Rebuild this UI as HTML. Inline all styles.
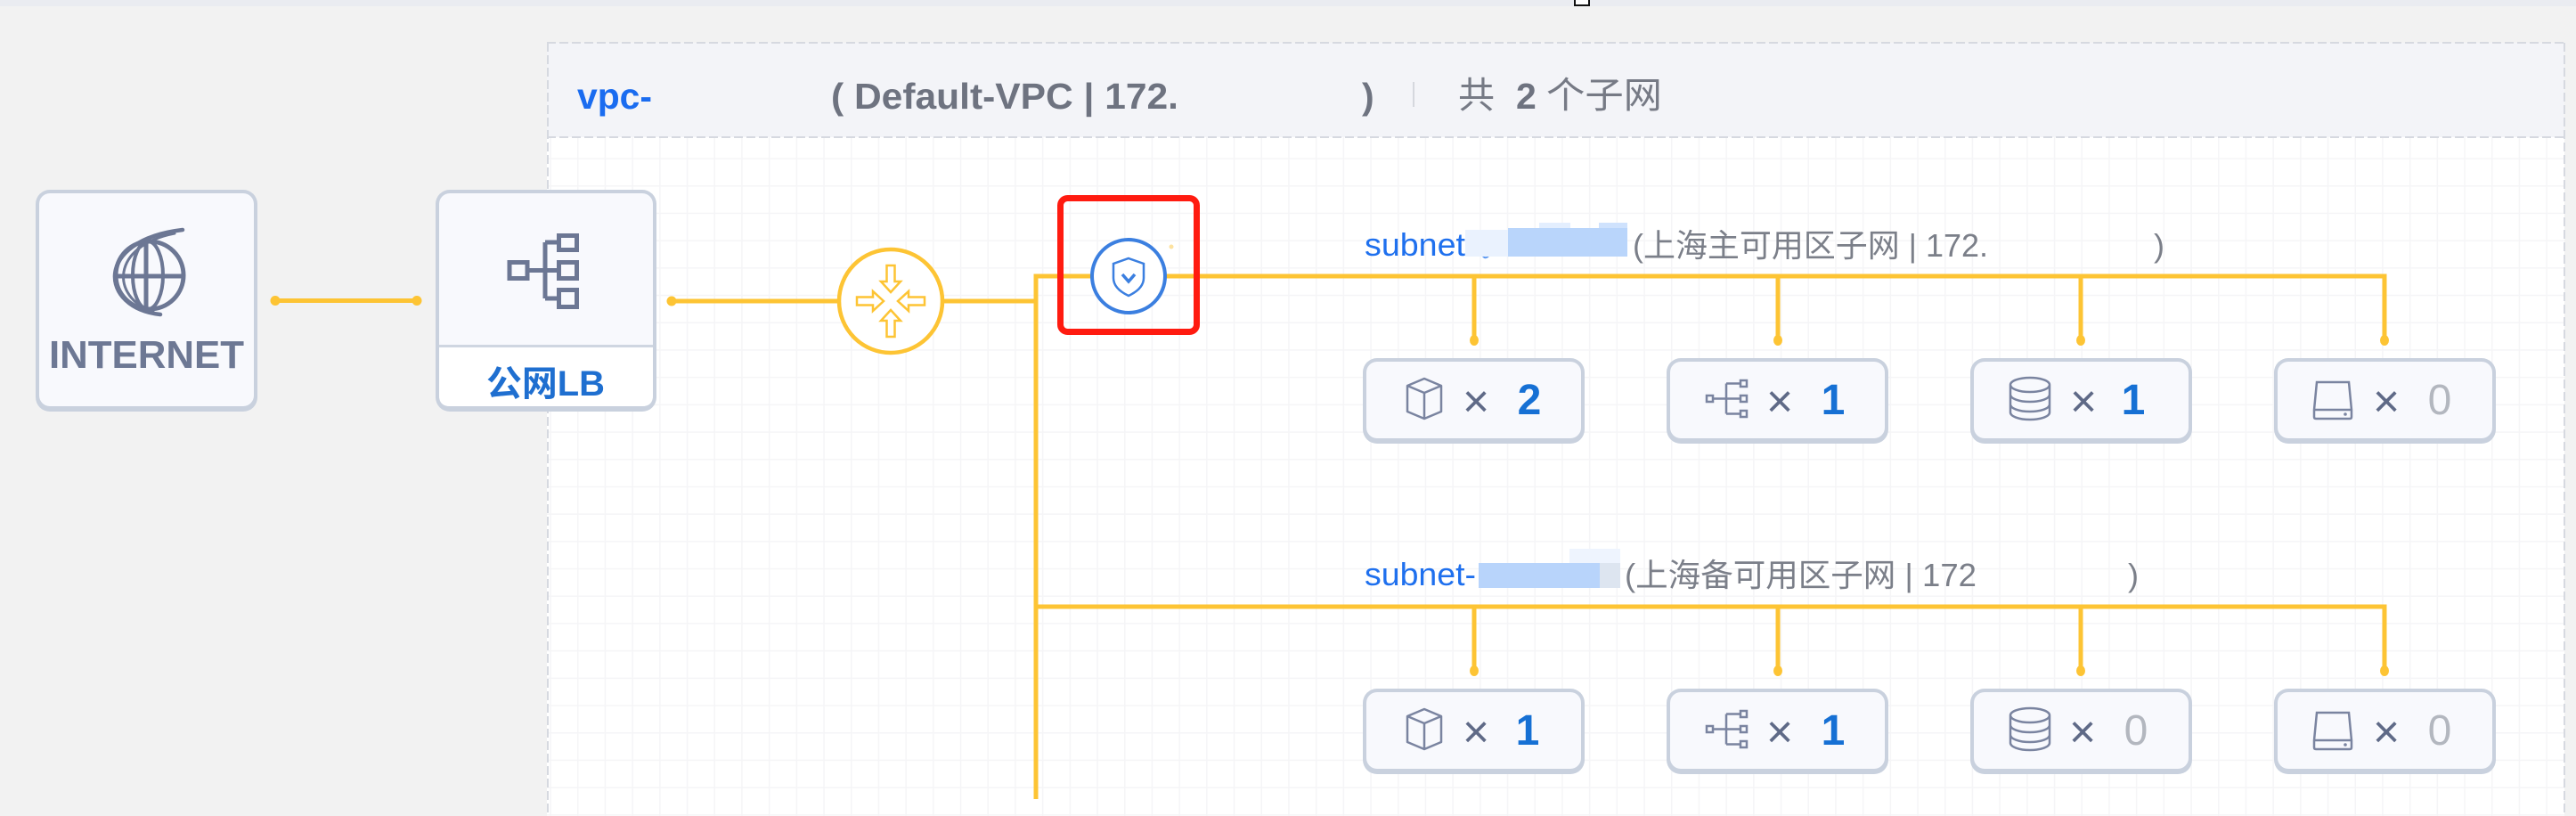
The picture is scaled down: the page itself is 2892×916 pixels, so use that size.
<!DOCTYPE html>
<html><head><meta charset="utf-8"><style>
html,body{margin:0;padding:0;width:2892px;height:916px;overflow:hidden;background:#f2f2f2}
svg{display:block}
</style></head><body>
<svg xmlns="http://www.w3.org/2000/svg" width="2892" height="916" viewBox="0 0 2892 916" font-family="'Liberation Sans','Noto Sans CJK SC',sans-serif">
<defs>
<pattern id="grid" x="648" y="515" width="30.7" height="30.7" patternUnits="userSpaceOnUse">
<path d="M0.75,0 V30.7 M0,0.75 H30.7" stroke="#f5f5f7" stroke-width="1.5" fill="none"/>
</pattern>
</defs>
<!-- page background -->
<rect x="0" y="0" width="2892" height="916" fill="#f2f2f2"/>
<rect x="0" y="0" width="2892" height="7" fill="#eaecf1"/>
<rect x="1768" y="-2" width="16" height="8" fill="#fff" stroke="#111" stroke-width="2"/>

<!-- VPC container -->
<rect x="614" y="48" width="2265" height="106" fill="#f3f4f8"/>
<rect x="614" y="154" width="2265" height="770" fill="#ffffff"/>
<rect x="614" y="154" width="2265" height="770" fill="url(#grid)"/>
<g stroke="#d6d9e0" stroke-width="2" stroke-dasharray="10 4" fill="none">
<path d="M614,48 H2879"/>
<path d="M614,154 H2879"/>
<path d="M615,48 V916"/>
<path d="M2879,48 V916"/>
</g>

<!-- header text -->
<text x="648" y="122" font-size="41" font-weight="bold" fill="#1a6cf0" textLength="84" lengthAdjust="spacingAndGlyphs">vpc-</text>
<text x="933" y="122" font-size="41" font-weight="bold" fill="#6e7380" textLength="390" lengthAdjust="spacingAndGlyphs">( Default-VPC | 172.</text>
<text x="1529" y="122" font-size="41" font-weight="bold" fill="#6e7380">)</text>
<line x1="1587" y1="92" x2="1587" y2="120" stroke="#d5d8de" stroke-width="2"/>
<text x="1637" y="121" font-size="41" fill="#767a85">共</text>
<text x="1702" y="122" font-size="41" font-weight="bold" fill="#6e7380">2</text>
<text x="1736" y="121" font-size="41" fill="#767a85" textLength="130" lengthAdjust="spacingAndGlyphs">个子网</text>

<!-- INTERNET node -->
<rect x="40" y="213" width="249" height="249" rx="16" fill="#c9d1de"/>
<rect x="44" y="217" width="241" height="239" rx="12" fill="#f8f9fd"/>
<g stroke="#6c7794" fill="none" stroke-linecap="round">
<circle cx="168" cy="309" r="38" stroke-width="5"/>
<ellipse cx="166" cy="309" rx="17" ry="38" stroke-width="4"/>
<line x1="164" y1="271" x2="164" y2="347" stroke-width="5"/>
<line x1="131" y1="310" x2="205" y2="310" stroke-width="5"/>
<path d="M180,353 C112,346 104,270 205,258" stroke-width="4.5"/>
<path d="M172,350 C124,334 124,276 196,262" stroke-width="3"/>
</g>
<text x="55" y="413" font-size="44" font-weight="bold" fill="#6d7894" textLength="219" lengthAdjust="spacingAndGlyphs">INTERNET</text>

<!-- LB node -->
<rect x="489" y="213" width="248" height="249" rx="16" fill="#c9d1de"/>
<rect x="493" y="217" width="240" height="239" rx="12" fill="#f8f9fd"/>
<path d="M493,390 H733 V444 Q733,456 721,456 H505 Q493,456 493,444 Z" fill="#ffffff"/>
<line x1="493" y1="388.5" x2="733" y2="388.5" stroke="#cfd6e1" stroke-width="3"/>
<g stroke="#6c7794" stroke-width="5" fill="none">
<rect x="572" y="294.5" width="20" height="18"/>
<rect x="627.5" y="264.5" width="20" height="16"/>
<rect x="627.5" y="294.5" width="20" height="18"/>
<rect x="627.5" y="325.5" width="20" height="19"/>
<path d="M594,303.5 H612 M612,272 V335 M612,272 H625 M612,303.5 H625 M612,335 H625"/>
</g>
<text x="546" y="444" font-size="40" font-weight="bold" fill="#1f6fd0" textLength="133" lengthAdjust="spacingAndGlyphs">公网LB</text>

<!-- connectors -->
<g stroke="#fdc434" stroke-width="5" fill="none">
<line x1="309" y1="337.5" x2="468" y2="337.5"/>
<line x1="754" y1="338" x2="942" y2="338"/>
<line x1="1058" y1="338" x2="1163" y2="338"/>
<path d="M1163,897 V310 H2677 V381"/>
<path d="M1655,310 V381 M1996,310 V381 M2336,310 V381"/>
<path d="M1163,681 H2677 V752"/>
<path d="M1655,681 V752 M1996,681 V752 M2336,681 V752"/>
</g>
<g fill="#fdc434">
<circle cx="309" cy="337.5" r="5.5"/>
<circle cx="468" cy="337.5" r="5.5"/>
<circle cx="754" cy="338" r="5.5"/>
<ellipse cx="1655" cy="382" rx="5" ry="6"/>
<ellipse cx="1996" cy="382" rx="5" ry="6"/>
<ellipse cx="2336" cy="382" rx="5" ry="6"/>
<ellipse cx="2677" cy="382" rx="5" ry="6"/>
<ellipse cx="1655" cy="753" rx="5" ry="6"/>
<ellipse cx="1996" cy="753" rx="5" ry="6"/>
<ellipse cx="2336" cy="753" rx="5" ry="6"/>
<ellipse cx="2677" cy="753" rx="5" ry="6"/>
</g>

<!-- router -->
<circle cx="1000" cy="338" r="58" fill="#ffffff" stroke="#fdc434" stroke-width="4.5"/>
<g fill="none" stroke="#fdc434" stroke-width="2.5" stroke-linejoin="miter">
<path transform="translate(1000,328)" d="M-4.5,-30 H4.5 V-12 H11 L0,0 L-11,-12 H-4.5 Z"/>
<path transform="translate(1000,348) rotate(180)" d="M-4.5,-30 H4.5 V-12 H11 L0,0 L-11,-12 H-4.5 Z"/>
<path transform="translate(992,338) rotate(-90)" d="M-4.5,-30 H4.5 V-12 H11 L0,0 L-11,-12 H-4.5 Z"/>
<path transform="translate(1008,338) rotate(90)" d="M-4.5,-30 H4.5 V-12 H11 L0,0 L-11,-12 H-4.5 Z"/>
</g>

<!-- security group shield -->
<circle cx="1267" cy="310" r="41" fill="#ffffff" stroke="#3b7fe0" stroke-width="4"/>
<path d="M1267,290 L1284,296 V312 Q1284,324 1267,332 Q1250,324 1250,312 V296 Z" fill="none" stroke="#3b7fe0" stroke-width="2.5"/>
<path d="M1260,308 L1267,316 L1274,308" fill="none" stroke="#3b7fe0" stroke-width="3.5"/>
<circle cx="1315" cy="277" r="2.5" fill="#fde2a0"/>
<rect x="1190.5" y="222.5" width="153" height="150" rx="8" fill="none" stroke="#ff1b10" stroke-width="7"/>

<!-- subnet 1 label -->
<text x="1532" y="287" font-size="36" fill="#1f70ee" textLength="113" lengthAdjust="spacingAndGlyphs">subnet</text>
<path d="M1663,284 Q1667,294 1673,285" fill="none" stroke="#5c97f0" stroke-width="2"/>
<rect x="1645" y="258" width="48" height="30" fill="#eaf2fe"/>
<rect x="1693" y="256" width="134" height="32" fill="#b9d5fb"/>
<rect x="1728" y="250" width="35" height="6" fill="#e3eefe"/>
<rect x="1795" y="250" width="32" height="6" fill="#cfe2fd"/>
<text x="1833" y="288" font-size="36" fill="#7b7f89" textLength="399" lengthAdjust="spacingAndGlyphs">(上海主可用区子网 | 172.</text>
<text x="2418" y="288" font-size="36" fill="#7b7f89">)</text>

<!-- subnet 2 label -->
<text x="1532" y="657" font-size="36" fill="#1f70ee" textLength="125" lengthAdjust="spacingAndGlyphs">subnet-</text>
<rect x="1660" y="632" width="136" height="28" fill="#b8d4fb"/>
<rect x="1796" y="632" width="23" height="28" fill="#dde5f0"/>
<rect x="1762" y="616" width="57" height="16" fill="#eef4fe"/>
<text x="1824" y="658" font-size="36" fill="#7b7f89" textLength="395" lengthAdjust="spacingAndGlyphs">(上海备可用区子网 | 172</text>
<text x="2389" y="658" font-size="36" fill="#7b7f89">)</text>

<!-- resource boxes row 1 -->
<g transform="translate(1530,402)">
<rect width="249" height="96" rx="16" fill="#c9d1de"/><rect x="4" y="4" width="241" height="86" rx="12" fill="#f8f9fd"/>
<g stroke="#7a84a0" stroke-width="2.5" fill="none" stroke-linejoin="round">
<path d="M50,31 L69,23 L88,31 V60 L69,68 L50,60 Z M50,31 L69,39 L88,31 M69,39 V68"/>
</g>
<text x="127" y="66" font-size="52" text-anchor="middle" fill="#5f6a87">×</text>
<text x="187" y="63" font-size="48" font-weight="bold" text-anchor="middle" fill="#1670d4">2</text>
</g>
<g transform="translate(1871,402)">
<rect width="249" height="96" rx="16" fill="#c9d1de"/><rect x="4" y="4" width="241" height="86" rx="12" fill="#f8f9fd"/>
<g stroke="#7a84a0" stroke-width="2.5" fill="none">
<rect x="45" y="42" width="7" height="7"/>
<rect x="83" y="25" width="7" height="7"/>
<rect x="83" y="42" width="7" height="7"/>
<rect x="83" y="59" width="7" height="7"/>
<path d="M52,45.5 H67 M67,28.5 V62.5 M67,28.5 H83 M67,45.5 H83 M67,62.5 H83"/>
</g>
<text x="127" y="66" font-size="52" text-anchor="middle" fill="#5f6a87">×</text>
<text x="187" y="63" font-size="48" font-weight="bold" text-anchor="middle" fill="#1670d4">1</text>
</g>
<g transform="translate(2212,402)">
<rect width="249" height="96" rx="16" fill="#c9d1de"/><rect x="4" y="4" width="241" height="86" rx="12" fill="#f8f9fd"/>
<g stroke="#7a84a0" stroke-width="2.5" fill="none">
<path d="M45,30 A22,8 0 0 1 89,30 V61 A22,8 0 0 1 45,61 Z M45,30 A22,8 0 0 0 89,30 M45,41 A22,8 0 0 0 89,41 M45,52 A22,8 0 0 0 89,52"/>
</g>
<text x="127" y="66" font-size="52" text-anchor="middle" fill="#5f6a87">×</text>
<text x="183" y="63" font-size="48" font-weight="bold" text-anchor="middle" fill="#1670d4">1</text>
</g>
<g transform="translate(2553,402)">
<rect width="249" height="96" rx="16" fill="#c9d1de"/><rect x="4" y="4" width="241" height="86" rx="12" fill="#f8f9fd"/>
<g stroke="#7a84a0" stroke-width="2.5" fill="none">
<path d="M48,27 H84 L87,58 V66 Q87,68 85,68 H47 Q45,68 45,66 V58 Z M45,58 H87"/>
</g>
<circle cx="80" cy="63" r="1.8" fill="#7a84a0"/>
<text x="126" y="66" font-size="52" text-anchor="middle" fill="#5f6a87">×</text>
<text x="186" y="63" font-size="48" text-anchor="middle" fill="#b3b7bf">0</text>
</g>

<!-- resource boxes row 2 -->
<g transform="translate(1530,773)">
<rect width="249" height="96" rx="16" fill="#c9d1de"/><rect x="4" y="4" width="241" height="86" rx="12" fill="#f8f9fd"/>
<g stroke="#7a84a0" stroke-width="2.5" fill="none" stroke-linejoin="round">
<path d="M50,31 L69,23 L88,31 V60 L69,68 L50,60 Z M50,31 L69,39 L88,31 M69,39 V68"/>
</g>
<text x="127" y="66" font-size="52" text-anchor="middle" fill="#5f6a87">×</text>
<text x="185" y="63" font-size="48" font-weight="bold" text-anchor="middle" fill="#1670d4">1</text>
</g>
<g transform="translate(1871,773)">
<rect width="249" height="96" rx="16" fill="#c9d1de"/><rect x="4" y="4" width="241" height="86" rx="12" fill="#f8f9fd"/>
<g stroke="#7a84a0" stroke-width="2.5" fill="none">
<rect x="45" y="42" width="7" height="7"/>
<rect x="83" y="25" width="7" height="7"/>
<rect x="83" y="42" width="7" height="7"/>
<rect x="83" y="59" width="7" height="7"/>
<path d="M52,45.5 H67 M67,28.5 V62.5 M67,28.5 H83 M67,45.5 H83 M67,62.5 H83"/>
</g>
<text x="127" y="66" font-size="52" text-anchor="middle" fill="#5f6a87">×</text>
<text x="187" y="63" font-size="48" font-weight="bold" text-anchor="middle" fill="#1670d4">1</text>
</g>
<g transform="translate(2212,773)">
<rect width="249" height="96" rx="16" fill="#c9d1de"/><rect x="4" y="4" width="241" height="86" rx="12" fill="#f8f9fd"/>
<g stroke="#7a84a0" stroke-width="2.5" fill="none">
<path d="M45,30 A22,8 0 0 1 89,30 V61 A22,8 0 0 1 45,61 Z M45,30 A22,8 0 0 0 89,30 M45,41 A22,8 0 0 0 89,41 M45,52 A22,8 0 0 0 89,52"/>
</g>
<text x="126" y="66" font-size="52" text-anchor="middle" fill="#5f6a87">×</text>
<text x="186" y="63" font-size="48" text-anchor="middle" fill="#b3b7bf">0</text>
</g>
<g transform="translate(2553,773)">
<rect width="249" height="96" rx="16" fill="#c9d1de"/><rect x="4" y="4" width="241" height="86" rx="12" fill="#f8f9fd"/>
<g stroke="#7a84a0" stroke-width="2.5" fill="none">
<path d="M48,27 H84 L87,58 V66 Q87,68 85,68 H47 Q45,68 45,66 V58 Z M45,58 H87"/>
</g>
<circle cx="80" cy="63" r="1.8" fill="#7a84a0"/>
<text x="126" y="66" font-size="52" text-anchor="middle" fill="#5f6a87">×</text>
<text x="186" y="63" font-size="48" text-anchor="middle" fill="#b3b7bf">0</text>
</g>
</svg>
</body></html>
